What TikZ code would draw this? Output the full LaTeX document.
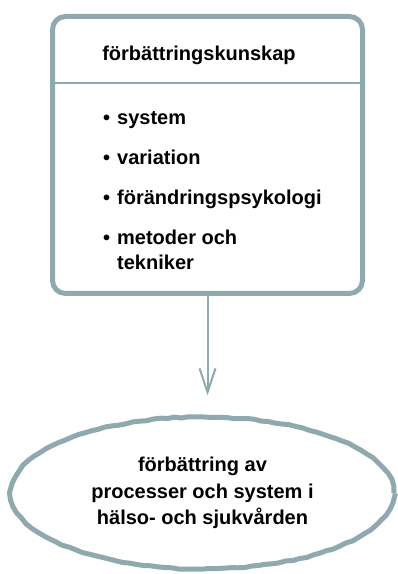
\documentclass[tikz,border=0pt]{standalone}
\usepackage{fontspec}
\setmainfont{Liberation Sans}
\usepackage{xcolor}
\usetikzlibrary{shapes.geometric, arrows.meta, positioning, decorations.pathmorphing}
\definecolor{rim}{HTML}{8FA9AE}

\begin{document}
\begin{tikzpicture}[
            x=1pt, y=1pt,
            node distance=40pt,
            rough/.style={decorate, decoration={random steps, segment length=7pt, amplitude=0.6pt}},
            box/.style={rectangle, draw=rim, line width=5pt, rounded corners=13pt, minimum width=310pt, minimum height=277pt},
            oval/.style={ellipse, draw=rim, line width=5pt, rough, minimum width=383pt, minimum height=152pt, inner sep=0pt, align=center, font=\fontsize{20}{26.5}\selectfont\bfseries},
            label/.style={font=\fontsize{20}{25}\selectfont\bfseries, inner sep=0pt},
            item/.style={label, anchor=base west, align=left},
            arrow/.style={-{Straight Barb[length=24pt, width=16pt]}, rim, line width=2pt}
        ]
            \pgfmathsetseed{7}
            \useasboundingbox (0,0) rectangle (397,574);

            \node[box] (kunskap) at (207.5,419) {};
            \node[label] (title) at (199,519) {förbättringskunskap};
            \draw[rim, line width=2pt] (kunskap.west |- 0,491) -- (kunskap.east |- 0,491);

            \node[item] (sys) at (103,449) {\makebox[14pt][l]{\textbullet}system};
            \node[item, below=of sys.base west, anchor=base west] (var) {\makebox[14pt][l]{\textbullet}variation};
            \node[item, below=of var.base west, anchor=base west] (psy) {\makebox[14pt][l]{\textbullet}förändringspsykologi};
            % two lines: the base anchor sits on the last line
            \node[item, below=65pt of psy.base west, anchor=base west] (met) {\makebox[14pt][l]{\textbullet}metoder och\\\hspace*{14pt}tekniker};

            \node[oval] (forb) at (202.5,81) {förbättring av\\processer och system i\\hälso- och sjukvården};

            \draw[arrow, shorten >=19pt] (kunskap.south) -- (kunskap.south |- forb.north);
        \end{tikzpicture}
\end{document}
